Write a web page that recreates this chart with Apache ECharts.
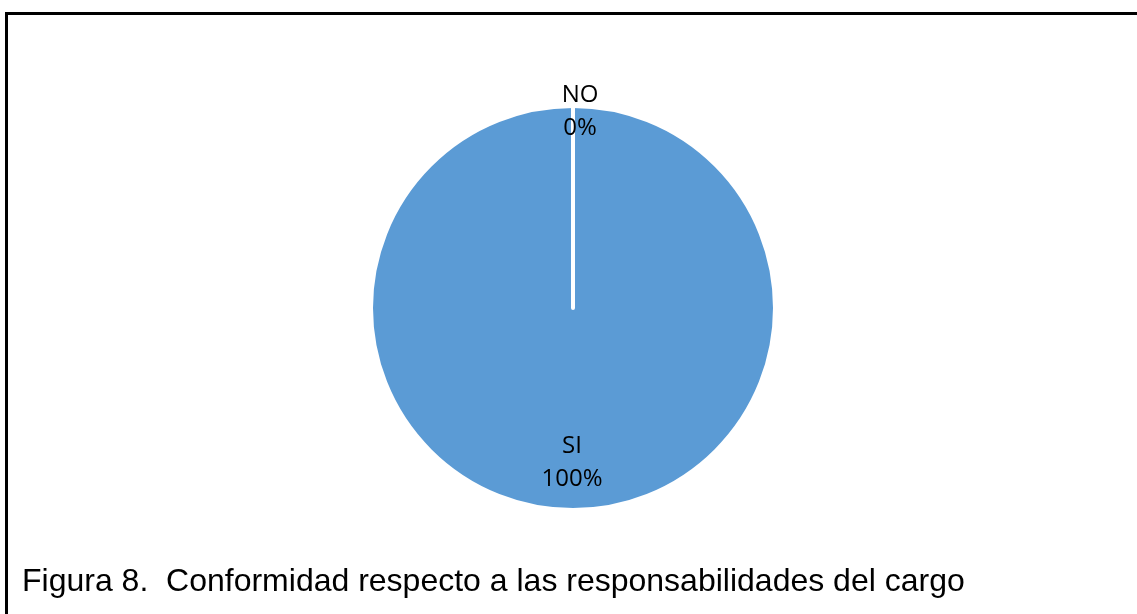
<!DOCTYPE html>
<html>
<head>
<meta charset="utf-8">
<style>
  html, body { margin: 0; padding: 0; background: #fff; }
  #chart { width: 1137px; height: 614px; }
</style>
<script src="https://cdn.jsdelivr.net/npm/echarts@6/dist/echarts.min.js"></script>
</head>
<body>
<div id="chart"></div>
<script>
const categories = ['SI', 'NO'];
const values = [100, 0];
const captionText = 'Figura 8.  Conformidad respecto a las responsabilidades del cargo';

const chart = echarts.init(document.getElementById('chart'), null, { renderer: 'canvas' });
chart.setOption({
  animation: false,
  backgroundColor: '#ffffff',
  title: {
    text: captionText,
    left: 22,
    top: 566,
    padding: 0,
    textStyle: {
      fontFamily: '"Liberation Sans", Arial, sans-serif',
      fontSize: 32,
      fontWeight: 'normal',
      color: '#000000',
      lineHeight: 32
    }
  },
  graphic: [{
    type: 'rect',
    silent: true,
    z: -1,
    shape: { x: 6.5, y: 13.5, width: 1300, height: 800 },
    style: { fill: null, stroke: '#000000', lineWidth: 3 }
  }],
  series: [{
    type: 'pie',
    center: [573, 308],
    radius: 202,
    startAngle: 90,
    clockwise: true,
    percentPrecision: 0,
    avoidLabelOverlap: false,
    emphasis: { disabled: true },
    itemStyle: { color: '#5B9BD5', borderColor: '#ffffff', borderWidth: 4 },
    label: {
      show: true,
      position: 'inside',
      formatter: '{b}\n{d}%',
      fontFamily: '"Open Sans", sans-serif',
      fontSize: 24,
      lineHeight: 33,
      color: '#000000'
    },
    labelLine: { show: false },
    labelLayout: function (params) {
      if (params.dataIndex === 1) return { dx: 7, dy: -92 };
      return { dx: -1, dy: 51 };
    },
    data: categories.map((c, i) => ({ name: c, value: values[i] }))
  }]
});
</script>
</body>
</html>
